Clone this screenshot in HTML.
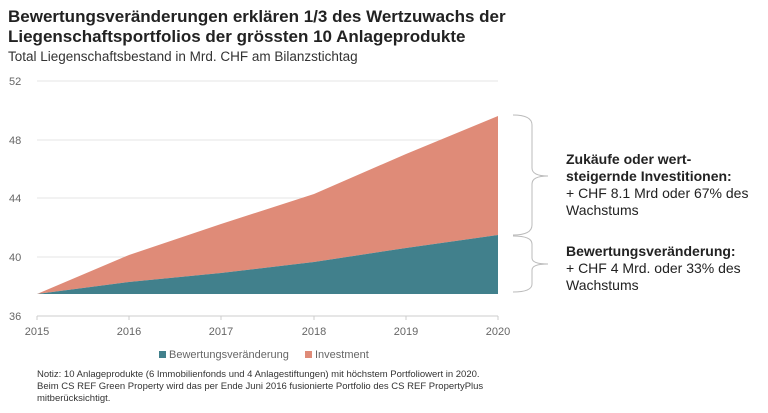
<!DOCTYPE html>
<html><head><meta charset="utf-8"><style>
body{margin:0;background:#fff;width:768px;height:408px;overflow:hidden;font-family:"Liberation Sans",sans-serif;}
</style></head><body>
<svg width="768" height="408" xmlns="http://www.w3.org/2000/svg" font-family="Liberation Sans, sans-serif">
<text x="8" y="22" font-size="17" font-weight="bold" fill="#222">Bewertungsveränderungen erklären 1/3 des Wertzuwachs der</text>
<text x="8" y="42" font-size="17" font-weight="bold" fill="#222">Liegenschaftsportfolios der grössten 10 Anlageprodukte</text>
<text x="8" y="61" font-size="13.5" fill="#333">Total Liegenschaftsbestand in Mrd. CHF am Bilanzstichtag</text>
<g stroke="#e6e6e6" stroke-width="1">
<line x1="37" x2="498" y1="81" y2="81"/><line x1="37" x2="498" y1="140" y2="140"/>
<line x1="37" x2="498" y1="198" y2="198"/><line x1="37" x2="498" y1="257" y2="257"/>
</g>
<line x1="37" x2="498" y1="316" y2="316" stroke="#ccc"/>
<g stroke="#ccc"><line x1="37" x2="37" y1="316" y2="320"/><line x1="129" x2="129" y1="316" y2="320"/><line x1="221" x2="221" y1="316" y2="320"/><line x1="314" x2="314" y1="316" y2="320"/><line x1="406" x2="406" y1="316" y2="320"/><line x1="498" x2="498" y1="316" y2="320"/></g>
<g font-size="11" fill="#666">
<text x="9" y="85">52</text><text x="9" y="144">48</text><text x="9" y="202">44</text><text x="9" y="261">40</text><text x="9" y="320">36</text>
<g text-anchor="middle"><text x="37" y="335">2015</text><text x="129" y="335">2016</text><text x="221" y="335">2017</text><text x="314" y="335">2018</text><text x="406" y="335">2019</text><text x="498" y="335">2020</text></g>
</g>
<polygon fill="#df8b78" points="37,294 129,255 221,224 314,194 406,154 498,116 498,235 406,248 314,262 221,273 129,282"/>
<polygon fill="#41808c" points="37,294 129,282 221,273 314,262 406,248 498,235 498,294"/>
<rect x="159" y="351" width="7" height="7" fill="#41808c"/>
<text x="169" y="358" font-size="11" fill="#666">Bewertungsveränderung</text>
<rect x="305" y="351" width="7" height="7" fill="#df8b78"/>
<text x="315" y="358" font-size="11" fill="#666">Investment</text>
<g fill="none" stroke="#bbb" stroke-width="1">
<path d="M513,115 Q532,115 532,125 L532,168 Q532,176 548,176 Q532,176 532,184 L532,225 Q532,235 513,235"/>
<path d="M513,236 Q532,236 532,244 L532,258 Q532,264 548,264 Q532,264 532,270 L532,284 Q532,292 513,292"/>
</g>
<g font-size="14" fill="#222">
<text x="566" y="164" font-weight="bold">Zukäufe oder wert-</text>
<text x="566" y="181" font-weight="bold">steigernde Investitionen:</text>
<text x="566" y="198">+ CHF 8.1 Mrd oder 67% des</text>
<text x="566" y="215">Wachstums</text>
<text x="566" y="256" font-weight="bold">Bewertungsveränderung:</text>
<text x="566" y="273">+ CHF 4 Mrd. oder 33% des</text>
<text x="566" y="290">Wachstums</text>
</g>
<g font-size="9.5" fill="#333">
<text x="37" y="377">Notiz: 10 Anlageprodukte (6 Immobilienfonds und 4 Anlagestiftungen) mit höchstem Portfoliowert in 2020.</text>
<text x="37" y="389">Beim CS REF Green Property wird das per Ende Juni 2016 fusionierte Portfolio des CS REF PropertyPlus</text>
<text x="37" y="401">mitberücksichtigt.</text>
</g>
</svg>
</body></html>
